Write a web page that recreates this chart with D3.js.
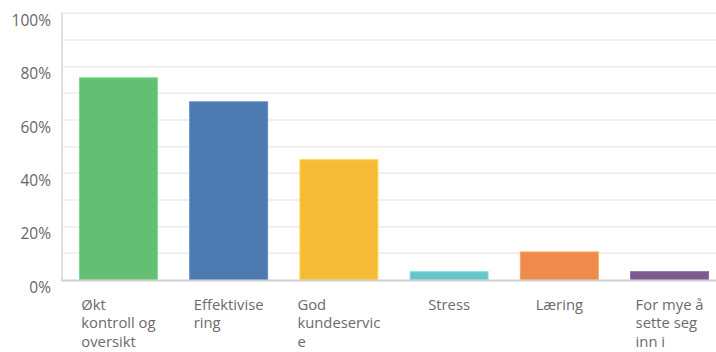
<!DOCTYPE html>
<html>
<head>
<meta charset="utf-8">
<script src="https://cdn.jsdelivr.net/npm/d3@7"></script>
<style>
  body { margin: 0; background: #fff; }
  text { font-family: "Open Sans", sans-serif; }
</style>
</head>
<body>
<svg id="chart" width="716" height="352"></svg>
<script>
// categories (already wrapped the way the chart wraps them)
const categories = ["Økt kontroll og oversikt", "Effektivisering", "God kundeservice", "Stress", "Læring", "For mye å sette seg inn i"];
const labelLines = [
  ["Økt", "kontroll og", "oversikt"],
  ["Effektivise", "ring"],
  ["God", "kundeservic", "e"],
  ["Stress"],
  ["Læring"],
  ["For mye å", "sette seg", "inn i"]
];
const values = [76, 67, 45.3, 3.3, 10.7, 3.3];
const colors = ["#63bf73", "#4d7ab1", "#f6bb36", "#69c4c9", "#ef8b4c", "#7b5a8e"];
const yTicks = [0, 20, 40, 60, 80, 100];
const gridTicks = d3.range(10, 101, 10);

const svg = d3.select('#chart');
const width = +svg.attr('width');

const y = d3.scaleLinear().domain([0, 100]).range([280, 13.3]);
const x = d3.scaleBand()
  .domain(categories)
  .range([62, 726])
  .paddingInner(0.284)
  .paddingOuter(0.154);

// gridlines
svg.append('g')
  .selectAll('line')
  .data(gridTicks)
  .join('line')
  .attr('x1', 62).attr('x2', width)
  .attr('y1', d => y(d)).attr('y2', d => y(d))
  .attr('stroke', '#ececec')
  .attr('stroke-width', 1.5);

// y labels (sit a little below their gridline)
svg.append('g')
  .selectAll('text')
  .data(yTicks)
  .join('text')
  .attr('x', 51)
  .attr('y', d => y(d) + 12.8)
  .attr('text-anchor', 'end')
  .attr('font-size', 15.5)
  .attr('fill', '#666')
  .text(d => d + '%');

// bars
svg.append('g')
  .selectAll('rect')
  .data(values)
  .join('rect')
  .attr('x', (d, i) => x(categories[i]) + 0.5)
  .attr('y', d => y(d) + 0.5)
  .attr('width', x.bandwidth() - 1)
  .attr('height', d => y(0) - y(d) - 0.5)
  .attr('fill', (d, i) => colors[i])
  .attr('stroke', (d, i) => d3.color(colors[i]).brighter(0.4))
  .attr('stroke-width', 1);

// axis lines
svg.append('line')
  .attr('x1', 62).attr('x2', 62)
  .attr('y1', 13).attr('y2', 281)
  .attr('stroke', '#d6d6d6').attr('stroke-width', 1.5);
svg.append('line')
  .attr('x1', 61).attr('x2', width)
  .attr('y1', 280.5).attr('y2', 280.5)
  .attr('stroke', '#cfcfcf').attr('stroke-width', 2);

// category labels: block centred under bar, lines left-aligned
const labels = svg.append('g')
  .selectAll('text')
  .data(labelLines)
  .join('text')
  .attr('y', 309.5)
  .attr('font-size', 14.8)
  .attr('fill', '#6b6b6b');

labels.each(function(lines, i) {
  const t = d3.select(this);
  const spans = t.selectAll('tspan')
    .data(lines)
    .join('tspan')
    .attr('x', 0)
    .attr('dy', (d, j) => j === 0 ? 0 : 18.8)
    .text(d => d);
  const w = this.getBBox().width;
  const cx = x(categories[i]) + x.bandwidth() / 2;
  spans.attr('x', cx - w / 2);
});
</script>
</body>
</html>
